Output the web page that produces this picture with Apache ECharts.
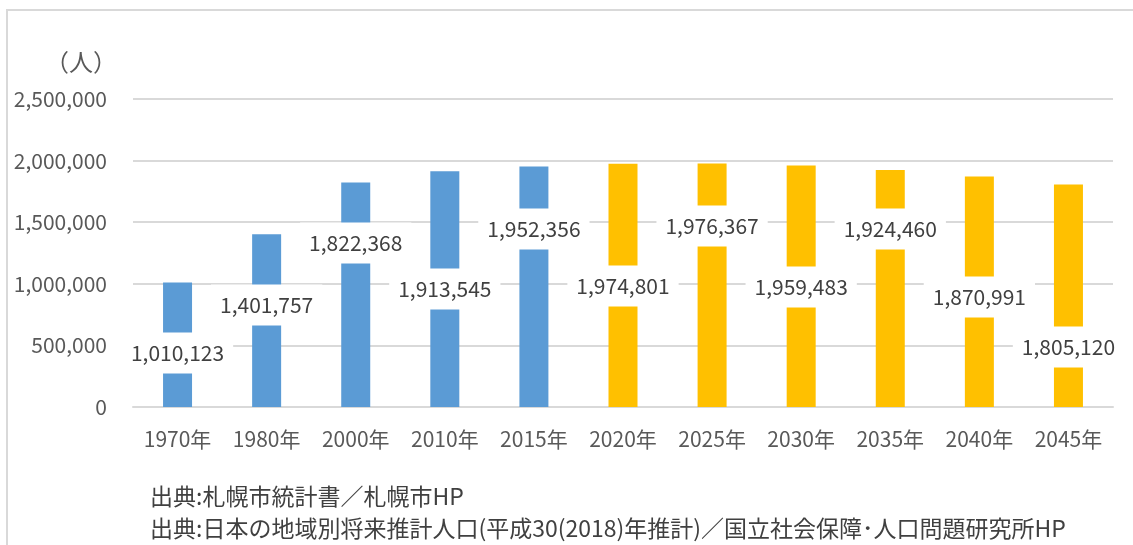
<!DOCTYPE html>
<html>
<head>
<meta charset="utf-8">
<script src="https://cdn.jsdelivr.net/npm/echarts@6/dist/echarts.min.js"></script>
<style>
  html, body { margin: 0; padding: 0; background: #fff; }
  #main { width: 1133px; height: 545px; }
</style>
</head>
<body>
<div id="main"></div>
<script>
// 札幌市の人口推移（実績＋将来推計）
var years = ['1970年', '1980年', '2000年', '2010年', '2015年', '2020年', '2025年', '2030年', '2035年', '2040年', '2045年']
var population = [1010123, 1401757, 1822368, 1913545, 1952356, 1974801, 1976367, 1959483, 1924460, 1870991, 1805120]
var isProjection = [false, false, false, false, false, true, true, true, true, true, true]
var yTicks = [0, 500000, 1000000, 1500000, 2000000, 2500000]

var FONT = '"Noto Sans CJK JP", "Noto Sans", sans-serif'
var gridTop = 99
var gridBottom = 138
var plotHeight = 545 - gridTop - gridBottom
var yMax = yTicks[yTicks.length - 1]
var k = plotHeight / yMax // px per person

// label box centre, px above the baseline (Excelの手動配置)
var labelLift = [54, 102, 164, 118, 178, 121, 181, 120, 178, 110, 60]

var barData = population.map(function (v, i) {
  return {
    value: v,
    itemStyle: { color: isProjection[i] ? '#FFC000' : '#5B9BD5' },
    label: { offset: [0, v * k / 2 - labelLift[i]] }
  }
})

var chart = echarts.init(document.getElementById('main'))
chart.setOption({
  animation: false,
  textStyle: { fontFamily: FONT },
  grid: { left: 133, right: 20, top: gridTop, bottom: gridBottom },
  xAxis: {
    type: 'category',
    data: years,
    axisLine: { lineStyle: { color: '#d9d9d9', width: 2 } },
    axisTick: { show: false },
    axisLabel: { color: '#595959', fontSize: 21, margin: 22, fontFamily: FONT }
  },
  yAxis: {
    type: 'value',
    min: 0,
    max: yMax,
    interval: 500000,
    axisLine: { show: false },
    axisTick: { show: false },
    splitLine: { lineStyle: { color: '#d9d9d9', width: 2 } },
    axisLabel: {
      color: '#595959',
      fontSize: 21,
      margin: 26,
      fontFamily: FONT,
      formatter: function (v) { return v.toLocaleString('en-US') }
    }
  },
  series: [{
    type: 'bar',
    barWidth: 29,
    data: barData,
    label: {
      show: true,
      position: 'inside',
      color: '#404040',
      fontSize: 21,
      lineHeight: 21,
      fontFamily: FONT,
      backgroundColor: '#fff',
      padding: [10, 9],
      formatter: function (p) { return p.value.toLocaleString('en-US') }
    }
  }],
  graphic: [
    {
      type: 'rect',
      shape: { x: 7, y: 10, width: 1300, height: 700 },
      style: { fill: 'none', stroke: '#d9d9d9', lineWidth: 2 },
      silent: true
    },
    {
      type: 'text',
      x: 81, y: 62,
      style: { text: '（人）', fill: '#595959', font: '24px ' + FONT, align: 'center', verticalAlign: 'middle' }
    },
    {
      type: 'text',
      x: 150, y: 496,
      style: { text: '出典:札幌市統計書／札幌市HP', fill: '#404040', font: '23px ' + FONT, verticalAlign: 'middle' }
    },
    {
      type: 'text',
      x: 150, y: 528,
      style: { text: '出典:日本の地域別将来推計人口(平成30(2018)年推計)／国立社会保障･人口問題研究所HP', fill: '#404040', font: '23px ' + FONT, verticalAlign: 'middle' }
    }
  ]
})
</script>
</body>
</html>
